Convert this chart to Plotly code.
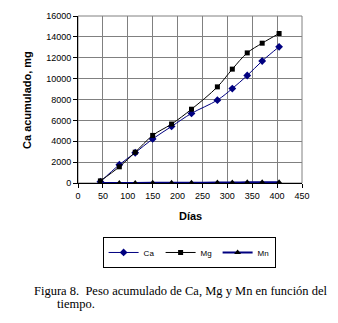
import plotly.graph_objects as go

# Cumulative weight (mg) of Ca, Mg and Mn versus time (days)
dias = [45, 83, 115, 150, 188, 228, 280, 310, 340, 370, 404]
ca = [120, 1750, 2900, 4220, 5420, 6670, 7940, 9050, 10300, 11690, 13050]
mg = [200, 1550, 2950, 4560, 5650, 7070, 9210, 10910, 12465, 13395, 14325]
mn = [0, 5, 10, 15, 20, 30, 40, 50, 60, 70, 80]

x_ticks = list(range(0, 451, 50))
y_ticks = list(range(0, 16001, 2000))
y_labels = [str(v) for v in y_ticks]

FONT = "Liberation Sans, Arial, sans-serif"
SERIF = "Liberation Serif, Times New Roman, serif"

fig = go.Figure()
fig.add_trace(go.Scatter(
    x=dias, y=ca, name="Ca", mode="lines+markers",
    line=dict(color="#000080", width=1, shape="spline", smoothing=1.0),
    marker=dict(symbol="diamond", size=6, color="#000080"),
))
fig.add_trace(go.Scatter(
    x=dias, y=mg, name="Mg", mode="lines+markers",
    line=dict(color="#000000", width=1, shape="spline", smoothing=1.0),
    marker=dict(symbol="square", size=5, color="#000000"),
))
fig.add_trace(go.Scatter(
    x=dias, y=mn, name="Mn", mode="lines+markers",
    line=dict(color="#000080", width=2, shape="spline", smoothing=1.0),
    marker=dict(symbol="triangle-up", size=6, color="#000000"),
))

# gray frame around the plotting area
fig.add_shape(type="rect", xref="paper", yref="paper", x0=0, y0=0, x1=1, y1=1,
              line=dict(color="#808080", width=1), layer="below")

fig.update_layout(
    width=338, height=323,
    margin=dict(l=78, r=36, t=11, b=140),
    paper_bgcolor="white", plot_bgcolor="white",
    font=dict(family=FONT, size=9, color="black"),
    showlegend=True,
    legend=dict(orientation="h", x=0.496, y=-0.416, xanchor="center", yanchor="middle",
                bordercolor="black", borderwidth=1, font=dict(size=8, family=FONT),
                itemwidth=30, entrywidth=12, entrywidthmode="pixels",
                tracegroupgap=0),
    xaxis=dict(range=[0, 450], tickvals=x_ticks, showgrid=True, gridcolor="#808080",
               gridwidth=1, showline=True, linecolor="black", linewidth=1,
               ticks="outside", ticklen=4, tickcolor="black", zeroline=False,
               tickfont=dict(size=9, family=FONT)),
    yaxis=dict(range=[0, 16000], tickvals=y_ticks, ticktext=y_labels, showgrid=True,
               gridcolor="#808080", gridwidth=1, showline=True, linecolor="black",
               linewidth=1, ticks="outside", ticklen=4, tickcolor="black",
               zeroline=False, tickfont=dict(size=9, family=FONT)),
    annotations=[
        dict(text="<b>Ca acumulado, mg</b>", xref="paper", yref="paper", x=-0.23, y=0.5,
             textangle=-90, showarrow=False, font=dict(size=11, family=FONT),
             xanchor="center", yanchor="middle"),
        dict(text="<b>Días</b>", xref="paper", yref="paper", x=0.5, y=-0.196,
             showarrow=False, font=dict(size=11, family=FONT),
             xanchor="center", yanchor="middle"),
        dict(text="Figura 8.  Peso acumulado de Ca, Mg y Mn en función del",
             xref="paper", yref="paper", x=-0.205, y=-0.645, showarrow=False,
             font=dict(size=12.5, family=SERIF), xanchor="left", yanchor="middle"),
        dict(text="tiempo.", xref="paper", yref="paper", x=-0.103, y=-0.725,
             showarrow=False, font=dict(size=12.5, family=SERIF),
             xanchor="left", yanchor="middle"),
    ],
)

fig.write_html("out.html")
